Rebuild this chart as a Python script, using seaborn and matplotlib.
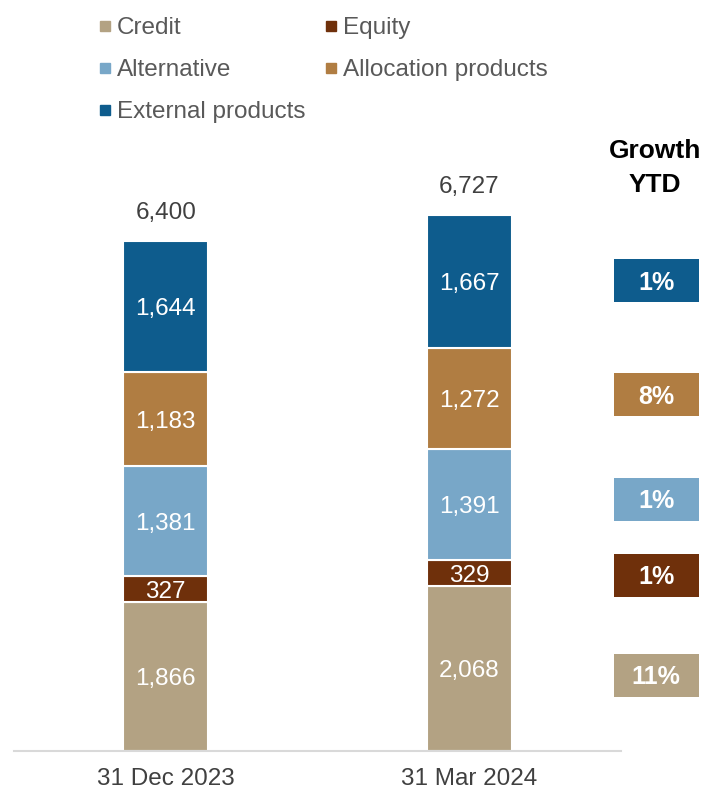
import matplotlib
matplotlib.use("Agg")
import matplotlib.pyplot as plt
import seaborn as sns
import numpy as np
from matplotlib.lines import Line2D
from matplotlib.patches import Rectangle

# ---- data ----
dates = ["31 Dec 2023", "31 Mar 2024"]
series = ["Credit", "Equity", "Alternative", "Allocation products", "External products"]
credit = [1866, 2068]
equity = [327, 329]
alternative = [1381, 1391]
allocation = [1183, 1272]
external = [1644, 1667]
totals = [6400, 6727]
growth_labels = ["11%", "1%", "1%", "8%", "1%"]  # Credit, Equity, Alternative, Allocation, External
colors = ["#B3A283", "#6F300B", "#78A7C8", "#B07D42", "#0E5C8D"]

sns.set_theme(style="white")
plt.rcParams["font.family"] = ["Liberation Sans", "DejaVu Sans"]

FS = 17.5
W, H = 705, 790
fig = plt.figure(figsize=(W / 100, H / 100), dpi=100)
base_px = 751
px_per_unit = 510 / 6400
ymax = 7500
ax_h = ymax * px_per_unit
ax = fig.add_axes([14 / W, (H - base_px) / H, 607 / W, ax_h / H])

layers = [credit, equity, alternative, allocation, external]
bottom = np.zeros(len(dates))
for vals, col in zip(layers, colors):
    sns.barplot(x=dates, y=vals, color=col, saturation=1, width=0.28,
                bottom=bottom, edgecolor="white", linewidth=1.5, ax=ax)
    for i, v in enumerate(vals):
        ax.text(i, bottom[i] + v / 2, f"{v:,}", ha="center", va="center_baseline",
                color="white", fontsize=FS)
    bottom = bottom + np.array(vals)

for i, t in enumerate(totals):
    ax.annotate(f"{t:,}", xy=(i, t), xytext=(0, 22), textcoords="offset points",
                ha="center", va="center_baseline", color="#404040", fontsize=FS)

ax.set_xlim(-0.5, 1.5)
ax.set_ylim(0, ymax)
ax.set_yticks([])
ax.set_ylabel("")
for s in ["top", "right", "left"]:
    ax.spines[s].set_visible(False)
ax.spines["bottom"].set_color("#D9D9D9")
ax.spines["bottom"].set_linewidth(1.5)
ax.tick_params(axis="x", length=0, pad=12, labelsize=FS, labelcolor="#404040")

# legend (row-wise order)
order = [0, 2, 4, 1, 3]
handles = [Line2D([], [], marker="s", linestyle="none", markersize=6.5,
                  markerfacecolor=colors[k], markeredgecolor=colors[k]) for k in order]
labels = [series[k] for k in order]
fig.legend(handles, labels, ncol=2, loc="upper left", bbox_to_anchor=(98.5 / W, 1 - 17 / H),
           frameon=False, fontsize=FS, labelcolor="#595959", handlelength=0.5,
           handletextpad=0.27, columnspacing=0.77, labelspacing=0.83, borderaxespad=0,
           borderpad=0)

# Growth YTD column
fig.text(655 / W, 1 - 148 / H, "Growth", ha="center", va="center_baseline", fontsize=19,
         fontweight="bold", color="black")
fig.text(655 / W, 1 - 182 / H, "YTD", ha="center", va="center_baseline", fontsize=19,
         fontweight="bold", color="black")
box_centers = [675, 575, 499, 394, 280]
for g, col, cy in zip(growth_labels, colors, box_centers):
    bw, bh = 85, 43
    fig.patches.append(Rectangle((614 / W, 1 - (cy + bh / 2) / H), bw / W, bh / H,
                                 transform=fig.transFigure, facecolor=col, edgecolor="none"))
    fig.text(656 / W, 1 - cy / H, g, ha="center", va="center_baseline", fontsize=18,
             fontweight="bold", color="white")

fig.savefig("out.png", dpi=100)
